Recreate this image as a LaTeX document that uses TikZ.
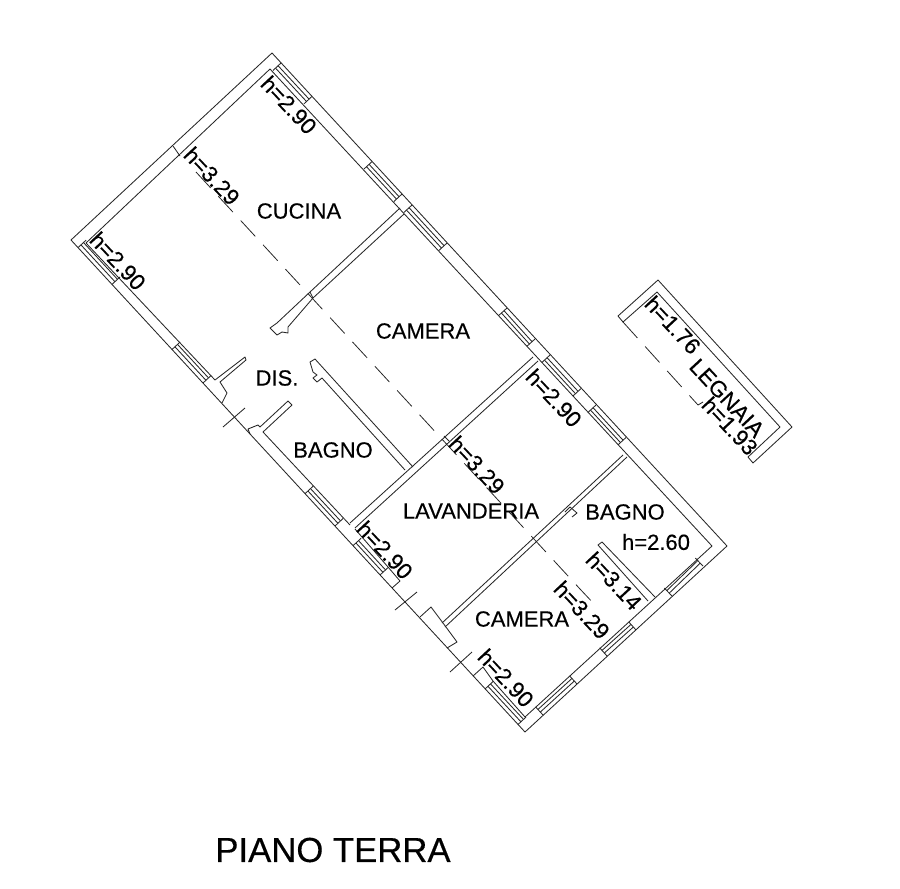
\documentclass[tikz,border=0pt]{standalone}
\usepackage{fontspec}
\setmainfont{Liberation Sans}
\newfontfamily\heavyfont[FakeBold=0.35]{Liberation Sans}
\usetikzlibrary{calc}
\definecolor{ink}{gray}{0.15}
\tikzset{
  wall/.style={draw=ink,line width=0.85pt,line join=round},
  beam/.style={draw=ink,line width=0.8pt,dash pattern=on 21.5pt off 11.5pt},
  room/.style={font=\heavyfont\fontsize{22}{22}\selectfont,text=black,inner sep=0pt},
  hgt/.style={font=\heavyfont\fontsize{22.5}{23}\selectfont,text=black,inner sep=0pt,rotate=-47},
}
\newcommand{\winband}[2]{%
  \draw[wall] (#1) -- ($(#1)!11pt!90:(#2)$);
  \draw[wall] (#2) -- ($(#2)!11pt!-90:(#1)$);
  \draw[wall] ($(#1)!4pt!90:(#2)$) -- ($(#2)!4pt!-90:(#1)$);
  \draw[wall] ($(#1)!7.5pt!90:(#2)$) -- ($(#2)!7.5pt!-90:(#1)$);
}
\begin{document}
\begin{tikzpicture}[x=1pt,y=-1pt]
\useasboundingbox (0,0) rectangle (900,889);
% outer shell
\draw[wall] (71,240) -- (272,53) -- (727,546) -- (525,732) -- cycle;
% inner faces
\draw[wall] (86,243) -- (270,69) -- (712,546) -- (525,717);
\draw[wall] (173,146) -- (180,156);
\draw[wall] (86,243) -- (215,380) -- (245,357) -- (246,360) -- (220,382) -- (227,393) -- (222,403);
\draw[wall] (250,434) -- (248,429) -- (258,425) -- (260,427) -- (288,401) -- (292,405) -- (263,432) -- (350,525);
\draw[wall] (355,529) -- (388,567) -- (400,581) -- (392,588);
\draw[wall] (420,617) -- (431,607) -- (443,623) -- (457,642) -- (447,648);
\draw[wall] (473,676) -- (483,667) -- (493,681) -- (525,717);
% door ticks
\draw[wall] (245,408) -- (223,427);
\draw[wall] (417,592) -- (395,610);
\draw[wall] (472,652) -- (450,672);
% windows, upper right wall
\winband{312,96.4}{281,63}
\winband{402,194}{372,161.6}
\winband{447,243}{412,205}
\winband{535,339}{507,308}
\winband{581,388.6}{550,355}
\winband{626,437.5}{596,405}
% windows, lower left wall
\winband{78,247.6}{112,284.4}
\winband{172,349.5}{203,383}
\winband{305,493.7}{335,526}
\winband{353,545.7}{380,575}
\winband{485,689}{518,724.5}
% windows, lower right wall
\winband{672,596}{703,566}
\winband{607,656}{636,630}
\winband{543,715}{577,684}
% partition cucina / camera
\draw[wall] (400,208) -- (310,292) -- (277,323) -- (270,328) -- (277,335) -- (282,332) -- (288,333) -- (288,327) -- (313,298) -- (404,214);
\draw[wall] (310,292) -- (313,298);
% partition camera / lavanderia
\draw[wall] (350,523) -- (533,357);
\draw[wall] (355,528) -- (538,361);
\draw[wall] (444,436) -- (449,441);
% partition bagno / camera
\draw[wall] (405,470) -- (322,378) -- (317,382) -- (313,378) -- (317,375) -- (313,372) -- (310,362) -- (315,359) -- (413,467);
% partition lavanderia / camera
\draw[wall] (442,623) -- (623,455);
\draw[wall] (445,627) -- (627,457);
\draw[wall] (565,512) -- (570,507) -- (577,513) -- (572,517);
% closet
\draw[wall] (648,601) -- (598,545) -- (602,542) -- (655,597);
% height beam
\path[beam] (196,172) -- (580,589) -- (596,606);
% legnaia
\draw[wall] (618,316) -- (658,280) -- (792,427) -- (753,463) -- (748,457) -- (780,427) -- (657,292) -- (623,322) -- cycle;
\path[beam] (623,322) -- (698,405);
\draw[wall] (698,405) -- (703,402);
% texts
\node[room] (cucina) at (299,211) {CUCINA};
\node[room] (camera1) at (423,331) {CAMERA};
\node[room] (dis) at (277,378) {DIS.};
\node[room] (bagno1) at (333,450) {BAGNO};
\node[room] (lav) at (471,511) {LAVANDERIA};
\node[room] (bagno2) at (625,512) {BAGNO};
\node[room] (hb) at (656,542) {h=2.60};
\node[room] (camera2) at (522,619) {CAMERA};
\node[font=\heavyfont\fontsize{34.7}{35}\selectfont,inner sep=0pt] (title) at (333,850) {PIANO TERRA};
\node[hgt] (ha) at (289,105) {h=2.90};
\node[hgt] (hc) at (212,176) {h=3.29};
\node[hgt] (hd) at (118,261) {h=2.90};
\node[hgt] (he) at (554,398) {h=2.90};
\node[hgt] (hf) at (477,465) {h=3.29};
\node[hgt] (hg) at (385,550) {h=2.90};
\node[hgt] (hh) at (614,581) {h=3.14};
\node[hgt] (hi) at (582,610) {h=3.29};
\node[hgt] (hj) at (506,678) {h=2.90};
\node[hgt] (hk) at (673,325) {h=1.76};
\node[hgt] (hl) at (727,398) {LEGNAIA};
\node[hgt] (hm) at (730,426) {h=1.93};
\end{tikzpicture}
\end{document}
